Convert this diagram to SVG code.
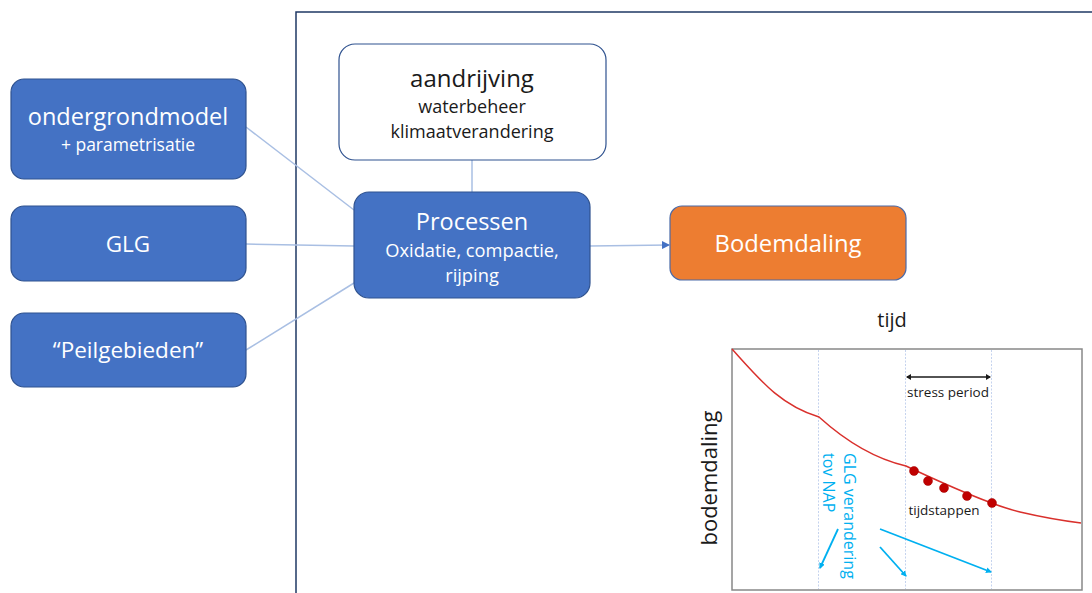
<svg xmlns="http://www.w3.org/2000/svg" width="1092" height="593" viewBox="0 0 1092 593">
<defs>
<style>
.bx{fill:#4472C4;stroke:#2F528F;stroke-width:1.2}
.wt{fill:#fff;font-family:"Open Sans",sans-serif;text-anchor:middle}
.dk{fill:#1a1a1a;font-family:"Open Sans",sans-serif;text-anchor:middle}
.con{stroke:#A9BFE3;stroke-width:1.5;fill:none}
.vl{stroke:#C5D3EE;stroke-width:1;stroke-dasharray:2 1.5}
.ba{stroke:#00B0F0;stroke-width:1.8;fill:none}
</style>
<marker id="ah" markerWidth="8" markerHeight="8" refX="7" refY="4" orient="auto" markerUnits="userSpaceOnUse"><path d="M0,0 L8,4 L0,8 z" fill="#4472C4"/></marker>
<marker id="bh" markerWidth="6" markerHeight="6" refX="5" refY="3" orient="auto" markerUnits="userSpaceOnUse"><path d="M0,0 L6,3 L0,6 z" fill="#00B0F0"/></marker>
<marker id="kh" markerWidth="5" markerHeight="6" refX="4" refY="3" orient="auto-start-reverse" markerUnits="userSpaceOnUse"><path d="M0,0 L5,3 L0,6 z" fill="#1a1a1a"/></marker>
</defs>
<rect width="1092" height="593" fill="#fff"/>
<path d="M296,593 V12 H1092" fill="none" stroke="#1F3864" stroke-width="1.5"/>
<g id="connectors">
<line class="con" x1="246" y1="127" x2="354" y2="210"/>
<line class="con" x1="246" y1="244" x2="354" y2="246"/>
<line class="con" x1="246" y1="350" x2="354" y2="283"/>
<line class="con" x1="472" y1="160" x2="472" y2="192"/>
<line class="con" x1="590" y1="246" x2="669" y2="245" marker-end="url(#ah)"/>
</g>
<g id="ondergrondmodel">
<rect class="bx" x="11" y="79" width="235" height="100" rx="13"/>
<text class="wt" x="128" y="125" font-size="23.5">ondergrondmodel</text>
<text class="wt" x="128" y="151" font-size="17.5">+ parametrisatie</text>
</g>
<g id="glg">
<rect class="bx" x="11" y="206" width="235" height="75" rx="13"/>
<text class="wt" x="128" y="252" font-size="22.5">GLG</text>
</g>
<g id="peilgebieden">
<rect class="bx" x="11" y="313" width="235" height="74" rx="13"/>
<text class="wt" x="128" y="358" font-size="22.5">“Peilgebieden”</text>
</g>
<g id="aandrijving">
<rect x="339" y="44" width="267" height="116" rx="16" fill="#fff" stroke="#2F528F" stroke-width="1.2"/>
<text class="dk" x="472" y="87" font-size="24">aandrijving</text>
<text class="dk" x="472" y="113" font-size="18">waterbeheer</text>
<text class="dk" x="472" y="138" font-size="18">klimaatverandering</text>
</g>
<g id="processen">
<rect class="bx" x="354" y="192" width="236" height="106" rx="15"/>
<text class="wt" x="472" y="230" font-size="23.5">Processen</text>
<text class="wt" x="472" y="257" font-size="18.3">Oxidatie, compactie,</text>
<text class="wt" x="472" y="282" font-size="18.3">rijping</text>
</g>
<g id="bodemdaling">
<rect x="670" y="206" width="236" height="74" rx="12" fill="#ED7D31" stroke="#4A6AA8" stroke-width="1.2"/>
<text class="wt" x="788" y="252" font-size="23.8">Bodemdaling</text>
</g>
<g id="chart">
<text class="dk" x="892" y="327" font-size="20">tijd</text>
<text class="dk" font-size="22" transform="translate(717,478) rotate(-90)">bodemdaling</text>
<rect x="732" y="349" width="350" height="241" fill="#fff" stroke="#888" stroke-width="1.5"/>
<line class="vl" x1="818.5" y1="350" x2="818.5" y2="589"/>
<line class="vl" x1="905.5" y1="350" x2="905.5" y2="589"/>
<line class="vl" x1="991.5" y1="350" x2="991.5" y2="589"/>
<path d="M732,349 C760,380 780,405 819,417 C850,445 880,460 906,466 C940,482 990,505 1020,512 C1050,519 1065,521 1081,523" fill="none" stroke="#D9302C" stroke-width="1.5"/>
<g fill="#C00000" stroke="#A00000" stroke-width="0.5">
<circle cx="914" cy="471" r="4.5"/>
<circle cx="928" cy="481" r="4.5"/>
<circle cx="944" cy="488" r="4.5"/>
<circle cx="967" cy="496" r="4.5"/>
<circle cx="992" cy="503" r="4.5"/>
</g>
<line x1="907" y1="377" x2="990" y2="377" stroke="#1a1a1a" stroke-width="1.3" marker-start="url(#kh)" marker-end="url(#kh)"/>
<text class="dk" x="948" y="397" font-size="13.5">stress period</text>
<text class="dk" x="944" y="515" font-size="13.5">tijdstappen</text>
<text font-family="'Open Sans',sans-serif" font-size="16" fill="#00B0F0" transform="translate(844,453) rotate(90)">GLG verandering</text>
<text font-family="'Open Sans',sans-serif" font-size="16" fill="#00B0F0" transform="translate(823,453) rotate(90)">tov NAP</text>
<line class="ba" x1="838" y1="529" x2="820" y2="568" marker-end="url(#bh)"/>
<line class="ba" x1="880" y1="547" x2="906" y2="576" marker-end="url(#bh)"/>
<line class="ba" x1="880" y1="529" x2="991" y2="572" marker-end="url(#bh)"/>
</g>
</svg>
